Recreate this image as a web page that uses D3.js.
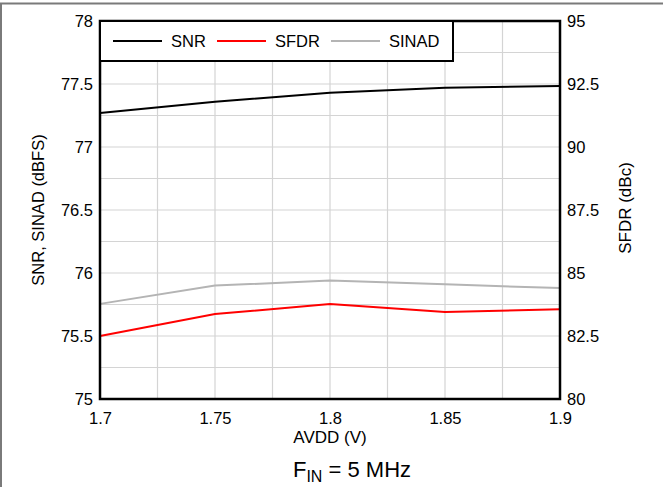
<!DOCTYPE html>
<html><head><meta charset="utf-8">
<script src="https://cdn.jsdelivr.net/npm/d3@7"></script>
<style>body{margin:0;background:#fff}svg{display:block}text{font-family:"Liberation Sans",Arial,sans-serif;fill:#000}</style>
</head><body>
<script>
const avdd = [1.7, 1.75, 1.8, 1.85, 1.9];
const snr = [77.27, 77.36, 77.43, 77.47, 77.485];
const sinad = [75.755, 75.90, 75.94, 75.91, 75.88];
const sfdr = [82.5, 83.37, 83.77, 83.45, 83.56];
const xTicks = [1.7, 1.75, 1.8, 1.85, 1.9];
const xTickLabels = ["1.7", "1.75", "1.8", "1.85", "1.9"];
const leftTicks = [75, 75.5, 76, 76.5, 77, 77.5, 78];
const rightTicks = [80, 82.5, 85, 87.5, 90, 92.5, 95];
const seriesNames = ["SNR", "SFDR", "SINAD"];
const seriesColors = ["#000000", "#ff0000", "#b4b4b4"];

const W = 663, H = 487;
const L = 100, R = 560, T = 21, B = 399;
const svg = d3.select("body").append("svg").attr("width", W).attr("height", H);

// outer frame
svg.append("line").attr("x1",0).attr("x2",W).attr("y1",3.5).attr("y2",3.5).attr("stroke","#7a7a7a").attr("stroke-width",2);
svg.append("line").attr("x1",1).attr("x2",1).attr("y1",3).attr("y2",H).attr("stroke","#7a7a7a").attr("stroke-width",2);

const x = d3.scaleLinear().domain([1.7, 1.9]).range([L, R]);
const yL = d3.scaleLinear().domain([75, 78]).range([B, T]);
const yR = d3.scaleLinear().domain([80, 95]).range([B, T]);

// grid
const gx = d3.range(1.7, 1.9001, 0.025);
const gy = d3.range(75, 78.001, 0.25);
const grid = svg.append("g").attr("stroke", "#d4d4d4").attr("stroke-width", 1.2);
gx.forEach(v => grid.append("line").attr("x1", x(v)).attr("x2", x(v)).attr("y1", T).attr("y2", B));
gy.forEach(v => grid.append("line").attr("x1", L).attr("x2", R).attr("y1", yL(v)).attr("y2", yL(v)));

// lines
const lineL = d3.line().x((d,i) => x(avdd[i])).y(d => yL(d));
const lineR = d3.line().x((d,i) => x(avdd[i])).y(d => yR(d));
svg.append("path").datum(sinad).attr("d", lineL).attr("fill","none").attr("stroke",seriesColors[2]).attr("stroke-width",2);
svg.append("path").datum(sfdr).attr("d", lineR).attr("fill","none").attr("stroke",seriesColors[1]).attr("stroke-width",2);
svg.append("path").datum(snr).attr("d", lineL).attr("fill","none").attr("stroke",seriesColors[0]).attr("stroke-width",2);

// axes
const ax = svg.append("g").attr("transform", `translate(0,${B})`)
  .call(d3.axisBottom(x).tickValues(xTicks).tickFormat((d,i) => xTickLabels[i]).tickSize(0).tickPadding(13));
const ayl = svg.append("g").attr("transform", `translate(${L},0)`)
  .call(d3.axisLeft(yL).tickValues(leftTicks).tickFormat(d3.format("")).tickSize(0).tickPadding(7));
const ayr = svg.append("g").attr("transform", `translate(${R},0)`)
  .call(d3.axisRight(yR).tickValues(rightTicks).tickFormat(d3.format("")).tickSize(0).tickPadding(7));
[ax, ayl, ayr].forEach(g => { g.select(".domain").remove(); g.selectAll("text").attr("font-size", 16.5).attr("font-family", "Liberation Sans, Arial, sans-serif").attr("fill","#000"); });

// plot frame
svg.append("rect").attr("x", L).attr("y", T).attr("width", R - L).attr("height", B - T)
  .attr("fill", "none").attr("stroke", "#000").attr("stroke-width", 2.5);

// legend
svg.append("rect").attr("x", L).attr("y", T).attr("width", 353).attr("height", 40)
  .attr("fill", "#fff").attr("stroke", "#000").attr("stroke-width", 2);
const legX = [113, 217, 331];
seriesNames.forEach((n, i) => {
  svg.append("line").attr("x1", legX[i]).attr("x2", legX[i] + 49).attr("y1", 41).attr("y2", 41)
    .attr("stroke", seriesColors[i]).attr("stroke-width", 2);
  svg.append("text").attr("x", legX[i] + 58).attr("y", 47).attr("font-size", 16.5).text(n);
});

// titles
svg.append("text").attr("x", 330).attr("y", 443).attr("text-anchor", "middle").attr("font-size", 17).text("AVDD (V)");
svg.append("text").attr("transform", "translate(44,210) rotate(-90)").attr("text-anchor", "middle").attr("font-size", 16.5).text("SNR, SINAD (dBFS)");
svg.append("text").attr("transform", "translate(631,208) rotate(-90)").attr("text-anchor", "middle").attr("font-size", 17).text("SFDR (dBc)");
const f = svg.append("text").attr("x", 352).attr("y", 477).attr("text-anchor", "middle").attr("font-size", 22);
f.append("tspan").text("F");
f.append("tspan").attr("font-size", 16).attr("dy", 5).text("IN");
f.append("tspan").attr("dy", -5).text(" = 5 MHz");
</script>
</body></html>
